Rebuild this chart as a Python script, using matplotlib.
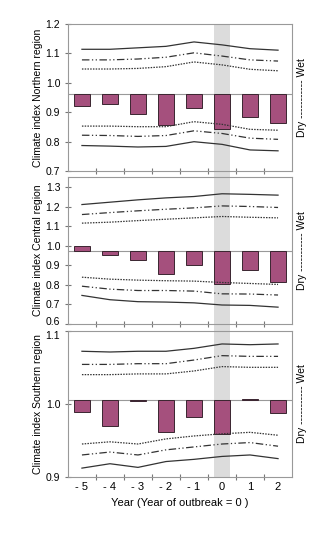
import matplotlib.pyplot as plt
from matplotlib.patches import Rectangle
from matplotlib.transforms import blended_transform_factory, ScaledTranslation

plt.rcParams['font.family'] = ['Liberation Sans Narrow', 'Liberation Sans', 'DejaVu Sans']
plt.rcParams['font.size'] = 7

years = ['- 5', '- 4', '- 3', '- 2', '- 1', '0', '1', '2']
outbreak_idx = 5

# Northern region
north_base = 0.962
north_bars = [0.921, 0.929, 0.895, 0.856, 0.915, 0.842, 0.884, 0.865]
north_sol_hi = [1.114, 1.114, 1.119, 1.124, 1.139, 1.129, 1.116, 1.111]
north_dd_hi = [1.078, 1.078, 1.081, 1.087, 1.102, 1.091, 1.078, 1.074]
north_dot_hi = [1.047, 1.047, 1.049, 1.055, 1.071, 1.061, 1.046, 1.041]
north_dot_lo = [0.853, 0.853, 0.851, 0.851, 0.868, 0.859, 0.842, 0.839]
north_dd_lo = [0.822, 0.821, 0.818, 0.821, 0.837, 0.828, 0.812, 0.808]
north_sol_lo = [0.787, 0.785, 0.782, 0.784, 0.800, 0.791, 0.772, 0.769]

# Central region
central_base = 0.972
central_bars = [1.000, 0.953, 0.928, 0.853, 0.900, 0.804, 0.877, 0.815]
central_sol_hi = [1.210, 1.222, 1.234, 1.244, 1.251, 1.265, 1.262, 1.258]
central_dd_hi = [1.159, 1.169, 1.178, 1.186, 1.193, 1.203, 1.200, 1.195]
central_dot_hi = [1.115, 1.120, 1.128, 1.135, 1.142, 1.149, 1.145, 1.142]
central_dot_lo = [0.839, 0.829, 0.824, 0.821, 0.819, 0.812, 0.807, 0.802]
central_dd_lo = [0.793, 0.778, 0.771, 0.771, 0.768, 0.754, 0.753, 0.748]
central_sol_lo = [0.746, 0.724, 0.714, 0.712, 0.708, 0.697, 0.695, 0.686]

# Southern region
south_base = 1.0046
south_bars = [0.989, 0.969, 1.004, 0.961, 0.982, 0.9585, 1.007, 0.988]
south_sol_hi = [1.072, 1.071, 1.072, 1.072, 1.076, 1.082, 1.081, 1.082]
south_dd_hi = [1.054, 1.054, 1.055, 1.055, 1.060, 1.066, 1.065, 1.065]
south_dot_hi = [1.040, 1.040, 1.041, 1.041, 1.045, 1.051, 1.050, 1.050]
south_dot_lo = [0.945, 0.948, 0.945, 0.952, 0.956, 0.959, 0.961, 0.957]
south_dd_lo = [0.930, 0.934, 0.930, 0.937, 0.941, 0.945, 0.947, 0.942]
south_sol_lo = [0.912, 0.918, 0.913, 0.921, 0.924, 0.928, 0.930, 0.925]

panels = [
    ('Climate index Northern region', north_base, north_bars,
     [north_sol_hi, north_dd_hi, north_dot_hi, north_dot_lo, north_dd_lo, north_sol_lo],
     (0.7, 1.2), [0.7, 0.8, 0.9, 1.0, 1.1, 1.2]),
    ('Climate index Central region', central_base, central_bars,
     [central_sol_hi, central_dd_hi, central_dot_hi, central_dot_lo, central_dd_lo, central_sol_lo],
     (0.6, 1.35), [0.6, 0.7, 0.8, 0.9, 1.0, 1.1, 1.2, 1.3]),
    ('Climate index Southern region', south_base, south_bars,
     [south_sol_hi, south_dd_hi, south_dot_hi, south_dot_lo, south_dd_lo, south_sol_lo],
     (0.9, 1.1), [0.9, 1.0, 1.1]),
]
styles = ['-', (0, (6, 2, 1, 2, 1, 2)), (0, (1.2, 1)), (0, (1.2, 1)), (0, (6, 2, 1, 2, 1, 2)), '-']

fig = plt.figure(figsize=(3.33, 5.45), dpi=100)
boxes = [(0.686, 0.956), (0.4055, 0.675), (0.125, 0.393)]
left, right = 0.204, 0.877
x = list(range(len(years)))
axes = []
for (lab, base, bars, lines, ylim, yt), (b, t) in zip(panels, boxes):
    ax = fig.add_axes([left, b, right - left, t - b])
    ax.set_facecolor('none')
    ax.axhline(base, color='#999999', lw=0.8, zorder=1)
    ax.bar(x, [v - base for v in bars], bottom=base, width=0.54,
           color='#A5507D', edgecolor='#3a2530', linewidth=0.7, zorder=2)
    for vals, ls in zip(lines, styles):
        ax.plot(x, vals, color='#333333', lw=0.9, linestyle=ls, zorder=3)
    ax.set_xlim(-0.5, 7.5)
    ax.set_ylim(*ylim)
    ax.set_yticks(yt)
    ax.set_yticklabels([f'{v:.1f}' for v in yt], fontsize=7.5)
    ax.set_xticks([i + 0.5 for i in range(7)])
    ax.set_xticklabels([])
    ax.set_xticks(x, minor=True)
    ax.tick_params(axis='x', which='minor', length=0)
    ax.tick_params(which='major', direction='inout', length=4, color='#777777', width=0.8)
    for s in ax.spines.values():
        s.set_color('#999999')
        s.set_linewidth(0.8)
    ax.set_ylabel(lab, fontsize=7.5, labelpad=2)
    ax.text(1.045, 0.5, 'Dry ----------- Wet', transform=ax.transAxes, rotation=90,
            ha='center', va='center', fontsize=7.5)
    axes.append(ax)

# keep the touching labels at the panel joints apart
fig.canvas.draw()
lbl_low = axes[1].get_yticklabels()[0]
lbl_low.set_transform(lbl_low.get_transform() + ScaledTranslation(0, 2 / 72, fig.dpi_scale_trans))
lbl_top = axes[2].get_yticklabels()[-1]
lbl_top.set_transform(lbl_top.get_transform() + ScaledTranslation(0, -3 / 72, fig.dpi_scale_trans))

axes[-1].set_xticklabels(years, minor=True, fontsize=8)
axes[-1].tick_params(axis='x', which='minor', pad=4)
axes[-1].set_xlabel('Year (Year of outbreak = 0 )', fontsize=8)

# shaded outbreak year across all panels
tr = blended_transform_factory(axes[0].transData, fig.transFigure)
fig.patches.append(Rectangle((outbreak_idx - 0.28, boxes[2][0]), 0.56, boxes[0][1] - boxes[2][0],
                             transform=tr, facecolor='#DCDCDC', edgecolor='none', zorder=-1,
                             figure=fig))

fig.savefig('out.png', dpi=100, facecolor='white')
